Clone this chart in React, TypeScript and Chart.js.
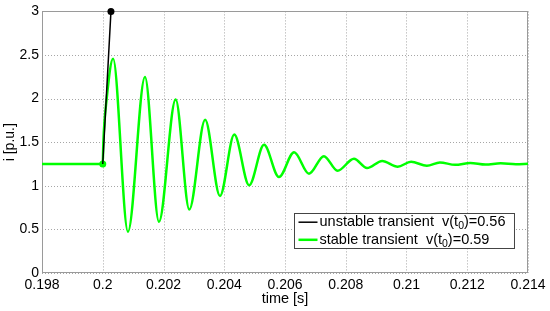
import React, { useEffect, useRef } from 'react';
import { Chart, registerables } from 'chart.js';

Chart.register(...registerables);

const xTicks = [0.198, 0.2, 0.202, 0.204, 0.206, 0.208, 0.21, 0.212, 0.214];
const yTicks = [0, 0.5, 1, 1.5, 2, 2.5, 3];
const seriesLabels = ['unstable transient  v(t\u2080)=0.56', 'stable transient  v(t\u2080)=0.59'];

const unstableT = [0.2, 0.20011, 0.20027];
const unstableI = [1.25, 1.97, 3.0];

const stableT = [
  0.198, 0.2, 0.20002, 0.20013, 0.20034, 0.20083, 0.20139, 0.20185, 0.2024, 0.20285,
  0.20337, 0.20386, 0.20433, 0.20482, 0.20531, 0.2058, 0.2063, 0.20679, 0.20728, 0.20773,
  0.20827, 0.2087, 0.2092, 0.20971, 0.21015, 0.21067, 0.2111, 0.2116, 0.2121, 0.2126,
  0.2131, 0.2136, 0.214,
];
const stableI = [
  1.25, 1.25, 1.5, 2.0, 2.456, 0.474, 2.248, 0.588, 1.989, 0.729,
  1.758, 0.884, 1.587, 1.006, 1.47, 1.1, 1.385, 1.139, 1.34, 1.173,
  1.31, 1.203, 1.285, 1.219, 1.276, 1.23, 1.268, 1.24, 1.262, 1.243,
  1.258, 1.247, 1.252,
];

const FONT = '"Liberation Sans", Arial, sans-serif';

const fmt = (v: number) => String(+Number(v).toFixed(3));

const boxPlugin = {
  id: 'axesBox',
  beforeDatasetsDraw(chart: any) {
    const { ctx, chartArea: a, scales } = chart;
    ctx.save();
    ctx.strokeStyle = '#a6a6a6';
    ctx.lineWidth = 1;
    ctx.setLineDash([1, 2]);
    xTicks.forEach((v) => {
      const px = Math.round(scales.x.getPixelForValue(v)) + 0.5;
      ctx.beginPath();
      ctx.moveTo(px, a.top);
      ctx.lineTo(px, a.bottom);
      ctx.stroke();
    });
    yTicks.forEach((v) => {
      const py = Math.round(scales.y.getPixelForValue(v)) + 0.5;
      ctx.beginPath();
      ctx.moveTo(a.left, py);
      ctx.lineTo(a.right, py);
      ctx.stroke();
    });
    ctx.setLineDash([]);
    ctx.strokeStyle = '#9a9a9a';
    ctx.strokeRect(Math.round(a.left) + 0.5, Math.round(a.top) + 0.5, Math.round(a.right - a.left) - 1, Math.round(a.bottom - a.top) - 1);
    ctx.restore();
  },
};

const legendPlugin = {
  id: 'boxLegend',
  afterDraw(chart: any) {
    const { ctx, chartArea: a } = chart;
    const ds = chart.data.datasets;
    const main = `14.5px ${FONT}`;
    const sub = `10.5px ${FONT}`;
    ctx.save();
    const measure = (label: string) => {
      const parts = label.split('\u2080');
      let w = 0;
      parts.forEach((p, i) => {
        ctx.font = main;
        w += ctx.measureText(p).width;
        if (i < parts.length - 1) {
          ctx.font = sub;
          w += ctx.measureText('0').width;
        }
      });
      return w;
    };
    const maxW = Math.max(...ds.map((d: any) => measure(d.label)));
    const rowH = 17.6;
    const boxW = 25 + maxW + 9;
    const boxH = 35;
    const right = a.right - 14;
    const bottom = a.bottom - 25;
    const left = Math.round(right - boxW) + 0.5;
    const top = Math.round(bottom - boxH) + 0.5;
    ctx.fillStyle = '#fff';
    ctx.fillRect(left, top, boxW, boxH);
    ctx.strokeStyle = '#444';
    ctx.lineWidth = 1;
    ctx.strokeRect(left, top, boxW, boxH);
    ds.forEach((d: any, k: number) => {
      const cy = top + 8.7 + k * rowH;
      ctx.strokeStyle = d.borderColor;
      ctx.lineWidth = d.borderWidth;
      ctx.beginPath();
      ctx.moveTo(left + 4, cy);
      ctx.lineTo(left + 23, cy);
      ctx.stroke();
      let x = left + 25;
      ctx.fillStyle = '#000';
      ctx.textBaseline = 'middle';
      ctx.textAlign = 'left';
      const parts = d.label.split('\u2080');
      parts.forEach((p: string, i: number) => {
        ctx.font = main;
        ctx.fillText(p, x, cy);
        x += ctx.measureText(p).width;
        if (i < parts.length - 1) {
          ctx.font = sub;
          ctx.fillText('0', x, cy + 4);
          x += ctx.measureText('0').width;
        }
      });
    });
    ctx.restore();
  },
};

export default function App() {
  const ref = useRef<HTMLCanvasElement | null>(null);
  useEffect(() => {
    if (!ref.current) return;
    const chart = new Chart(ref.current, {
      type: 'line',
      data: {
        datasets: [
          {
            label: seriesLabels[0],
            data: unstableT.map((t, i) => ({ x: t, y: unstableI[i] })),
            borderColor: '#000000',
            backgroundColor: '#000000',
            borderWidth: 1.5,
            pointRadius: (c: any) => (c.dataIndex === unstableT.length - 1 ? 3.5 : 0),
            pointBorderWidth: 0,
            tension: 0,
            clip: false as any,
          },
          {
            label: seriesLabels[1],
            data: stableT.map((t, i) => ({ x: t, y: stableI[i] })),
            borderColor: 'rgb(0,255,0)',
            backgroundColor: 'rgb(0,255,0)',
            borderWidth: 2.5,
            pointRadius: (c: any) => (c.dataIndex === 1 ? 3.5 : 0),
            pointBorderWidth: 0,
            cubicInterpolationMode: 'monotone',
          },
        ],
      },
      options: {
        animation: false,
        responsive: true,
        maintainAspectRatio: false,
        layout: { padding: { top: 10, right: 22, left: 0, bottom: 0 } },
        plugins: { legend: { display: false }, tooltip: { enabled: false } },
        scales: {
          x: {
            type: 'linear',
            min: 0.198,
            max: 0.214,
            afterBuildTicks: (s: any) => { s.ticks = xTicks.map((v) => ({ value: v })); },
            afterFit: (s: any) => { s.height = 38; },
            ticks: { font: { family: FONT, size: 14 }, color: '#000', padding: 4, maxRotation: 0, autoSkip: false, callback: (v: any) => fmt(v) },
            grid: { display: false, drawTicks: false },
            border: { display: false },
            title: { display: true, text: 'time [s]', font: { family: FONT, size: 14.5 }, color: '#000', padding: { top: 0, bottom: 3 } },
          },
          y: {
            type: 'linear',
            min: 0,
            max: 3,
            afterBuildTicks: (s: any) => { s.ticks = yTicks.map((v) => ({ value: v })); },
            afterFit: (s: any) => { s.width = 42; },
            ticks: { font: { family: FONT, size: 14 }, color: '#000', padding: 3, autoSkip: false, callback: (v: any) => fmt(v) },
            grid: { display: false, drawTicks: false },
            border: { display: false },
            title: { display: true, text: 'i [p.u.]', font: { family: FONT, size: 14 }, color: '#000', padding: { top: 2, bottom: 0 } },
          },
        },
      } as any,
      plugins: [boxPlugin, legendPlugin],
    });
    return () => chart.destroy();
  }, []);
  return (
    <div style={{ position: 'fixed', left: 0, top: 0, width: 550, height: 311, background: '#fff' }}>
      <canvas ref={ref} />
    </div>
  );
}
